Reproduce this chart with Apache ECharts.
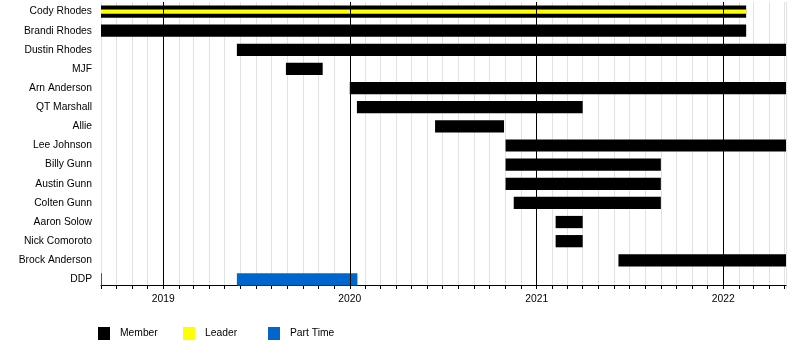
<!DOCTYPE html>
<html>
<head>
<meta charset="utf-8">
<script src="https://cdn.jsdelivr.net/npm/echarts@6/dist/echarts.min.js"></script>
<style>
html,body{margin:0;padding:0;background:#fff;}
#chart{width:800px;height:345px;}
</style>
</head>
<body>
<div id="chart"></div>
<script>
// ---- data ----
const names = ['Cody Rhodes','Brandi Rhodes','Dustin Rhodes','MJF','Arn Anderson','QT Marshall','Allie','Lee Johnson','Billy Gunn','Austin Gunn','Colten Gunn','Aaron Solow','Nick Comoroto','Brock Anderson','DDP'];
const axisStart = '2018-09-01';
const axisEnd = '2022-05-04';
const yearTicks = ['2019','2020','2021','2022'];
const memberPeriods = [
  ['Cody Rhodes','2018-09-01','2022-02-15'],
  ['Brandi Rhodes','2018-09-01','2022-02-15'],
  ['Dustin Rhodes','2019-05-25','2022-05-04'],
  ['MJF','2019-08-29','2019-11-09'],
  ['Arn Anderson','2020-01-01','2022-05-04'],
  ['QT Marshall','2020-01-15','2021-04-01'],
  ['Allie','2020-06-16','2020-10-29'],
  ['Lee Johnson','2020-11-01','2022-05-04'],
  ['Billy Gunn','2020-11-01','2021-09-01'],
  ['Austin Gunn','2020-11-01','2021-09-01'],
  ['Colten Gunn','2020-11-17','2021-09-01'],
  ['Aaron Solow','2021-02-07','2021-04-01'],
  ['Nick Comoroto','2021-02-07','2021-04-01'],
  ['Brock Anderson','2021-06-10','2022-05-04']
];
const leaderPeriods = [
  ['Cody Rhodes','2018-09-01','2022-02-15']
];
const partTimePeriods = [
  ['DDP','2018-09-01','2018-09-03'],
  ['DDP','2019-05-25','2020-01-16']
];

// ---- helpers ----
function ts(s){ const p = s.split('-').map(Number); return new Date(p[0], p[1]-1, p[2]).getTime(); }
function toData(periods){ return periods.map(p => [names.indexOf(p[0]), ts(p[1]), ts(p[2])]); }
function makeRender(ratio){
  return function(params, api){
    const row = api.value(0);
    const a = api.coord([api.value(1), row]);
    const b = api.coord([api.value(2), row]);
    const h = api.size([0,1])[1] * ratio;
    const cs = params.coordSys;
    const x0 = Math.max(a[0], cs.x), x1 = Math.min(b[0], cs.x + cs.width);
    return {
      type:'rect',
      shape:{x:x0, y:a[1]-h/2, width:Math.max(1, x1-x0), height:h},
      style:{fill: api.visual('color')}
    };
  };
}

const font = 'Liberation Sans, Arial, sans-serif';
const fs = 10.3;
const chart = echarts.init(document.getElementById('chart'), null, {renderer:'canvas'});
const legendBase = {
  itemWidth:12, itemHeight:13, icon:'rect', top:327, padding:0,
  textStyle:{fontFamily:font, fontSize:fs, color:'#000', padding:[0,0,0,5]},
  selectedMode:false
};
chart.setOption({
  animation:false,
  textStyle:{fontFamily:font},
  grid:{left:101, right:14, top:2, bottom:56, containLabel:false},
  legend:[
    Object.assign({}, legendBase, {left:98, data:['Member']}),
    Object.assign({}, legendBase, {left:183, data:['Leader']}),
    Object.assign({}, legendBase, {left:268, data:['Part Time']})
  ],
  xAxis:{
    type:'time',
    min: ts(axisStart), max: ts(axisEnd),
    offset:-4,
    splitNumber:44,
    minInterval: 28*86400000,
    maxInterval: 31*86400000,
    axisLine:{show:true, lineStyle:{color:'#000', width:1}},
    axisTick:{show:true, length:4, lineStyle:{color:'#000'}},
    axisLabel:{
      show:true, color:'#000', fontSize:fs, fontFamily:font, margin:9, hideOverlap:false,
      formatter:function(v){ const d = new Date(v); return (d.getMonth()===0 && d.getDate()===1 && yearTicks.indexOf(String(d.getFullYear()))>=0) ? String(d.getFullYear()) : ''; }
    },
    splitLine:{show:true, lineStyle:{color:'#e2e2e2', width:1}}
  },
  yAxis:{
    type:'category', inverse:true, data:names,
    axisLine:{show:false}, axisTick:{show:false}, splitLine:{show:false},
    axisLabel:{color:'#000', fontSize:fs, fontFamily:font, margin:9}
  },
  series:[
    {
      type:'line', name:'years', data:[], z:1, silent:true,
      markLine:{
        symbol:'none', silent:true, label:{show:false},
        lineStyle:{color:'#000', width:1, type:'solid'},
        data: yearTicks.map(y => ({xAxis: ts(y+'-01-01')}))
      }
    },
    {type:'custom', name:'Member', color:'#000000', z:3, renderItem:makeRender(0.64), encode:{x:[1,2], y:0}, data:toData(memberPeriods)},
    {type:'custom', name:'Leader', color:'#ffff00', z:4, renderItem:makeRender(0.22), encode:{x:[1,2], y:0}, data:toData(leaderPeriods)},
    {type:'custom', name:'Part Time', color:'#0066cc', z:4, renderItem:makeRender(0.64), encode:{x:[1,2], y:0}, data:toData(partTimePeriods)}
  ]
});
</script>
</body>
</html>
